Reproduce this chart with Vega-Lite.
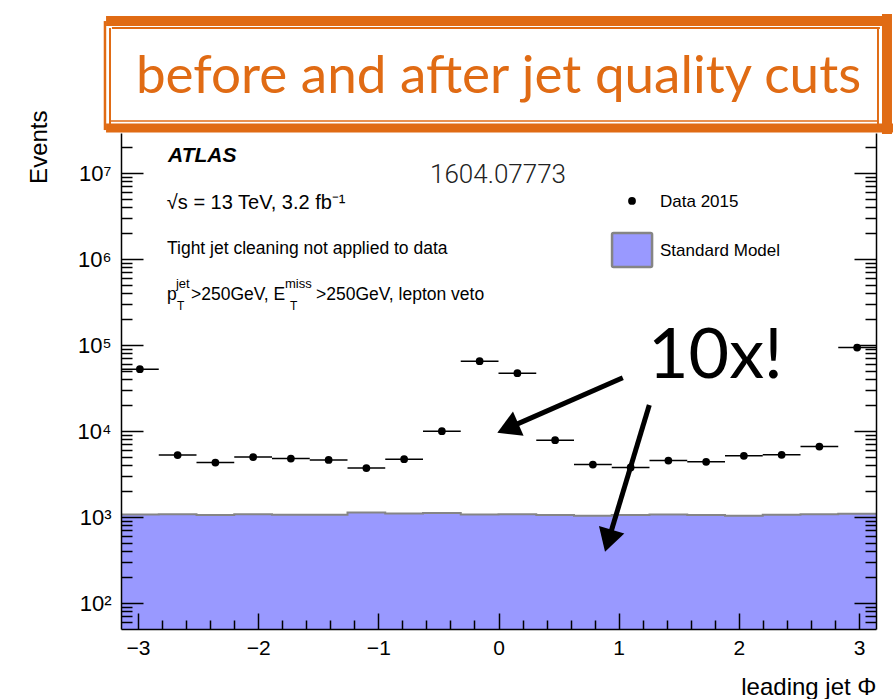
{
  "$schema": "https://vega.github.io/schema/vega-lite/v6.json",
  "width": 755,
  "height": 496,
  "autosize": {"type": "none"},
  "padding": {"left": 121, "top": 133, "right": 18, "bottom": 70},
  "background": "white",
  "config": {"view": {"stroke": null}},
  "data": {
    "values": [
      {"bin": 1, "phi": -2.9845, "phi_lo": -3.1416, "phi_hi": -2.8274, "data": 52600, "sm": 1072},
      {"bin": 2, "phi": -2.6704, "phi_lo": -2.8274, "phi_hi": -2.5133, "data": 5260, "sm": 1083},
      {"bin": 3, "phi": -2.3562, "phi_lo": -2.5133, "phi_hi": -2.1991, "data": 4310, "sm": 1055},
      {"bin": 4, "phi": -2.042, "phi_lo": -2.1991, "phi_hi": -1.885, "data": 4990, "sm": 1083},
      {"bin": 5, "phi": -1.7279, "phi_lo": -1.885, "phi_hi": -1.5708, "data": 4800, "sm": 1064},
      {"bin": 6, "phi": -1.4137, "phi_lo": -1.5708, "phi_hi": -1.2566, "data": 4630, "sm": 1064},
      {"bin": 7, "phi": -1.0996, "phi_lo": -1.2566, "phi_hi": -0.9425, "data": 3720, "sm": 1131},
      {"bin": 8, "phi": -0.7854, "phi_lo": -0.9425, "phi_hi": -0.6283, "data": 4720, "sm": 1101},
      {"bin": 9, "phi": -0.4712, "phi_lo": -0.6283, "phi_hi": -0.3142, "data": 10000, "sm": 1113},
      {"bin": 10, "phi": -0.1571, "phi_lo": -0.3142, "phi_hi": 0, "data": 65100, "sm": 1072},
      {"bin": 11, "phi": 0.1571, "phi_lo": 0, "phi_hi": 0.3142, "data": 47200, "sm": 1083},
      {"bin": 12, "phi": 0.4712, "phi_lo": 0.3142, "phi_hi": 0.6283, "data": 7850, "sm": 1055},
      {"bin": 13, "phi": 0.7854, "phi_lo": 0.6283, "phi_hi": 0.9425, "data": 4090, "sm": 1035},
      {"bin": 14, "phi": 1.0996, "phi_lo": 0.9425, "phi_hi": 1.2566, "data": 3780, "sm": 1055},
      {"bin": 15, "phi": 1.4137, "phi_lo": 1.2566, "phi_hi": 1.5708, "data": 4550, "sm": 1072},
      {"bin": 16, "phi": 1.7279, "phi_lo": 1.5708, "phi_hi": 1.885, "data": 4400, "sm": 1055},
      {"bin": 17, "phi": 2.042, "phi_lo": 1.885, "phi_hi": 2.1991, "data": 5160, "sm": 1035},
      {"bin": 18, "phi": 2.3562, "phi_lo": 2.1991, "phi_hi": 2.5133, "data": 5300, "sm": 1064},
      {"bin": 19, "phi": 2.6704, "phi_lo": 2.5133, "phi_hi": 2.8274, "data": 6620, "sm": 1083},
      {"bin": 20, "phi": 2.9845, "phi_lo": 2.8274, "phi_hi": 3.1416, "data": 93800, "sm": 1092}
    ]
  },
  "layer": [
    {
      "transform": [{"fold": ["phi_lo", "phi_hi"], "as": ["edge", "phi_edge"]}],
      "mark": {"type": "area", "color": "#9999ff", "opacity": 1},
      "encoding": {
        "x": {
          "field": "phi_edge", "type": "quantitative",
          "scale": {"domain": [-3.1416, 3.1416], "nice": false, "zero": false},
          "axis": null
        },
        "y": {
          "field": "sm", "type": "quantitative", "stack": null,
          "scale": {"type": "log", "domain": [50, 29300000], "nice": false, "zero": false},
          "axis": {
            "orient": "left", "zindex": 1, "grid": false,
            "values": [60, 70, 80, 90, 100, 200, 300, 400, 500, 600, 700, 800, 900, 1000, 2000, 3000, 4000, 5000, 6000, 7000, 8000, 9000, 10000, 20000, 30000, 40000, 50000, 60000, 70000, 80000, 90000, 100000, 200000, 300000, 400000, 500000, 600000, 700000, 800000, 900000, 1000000, 2000000, 3000000, 4000000, 5000000, 6000000, 7000000, 8000000, 9000000, 10000000, 20000000],
            "domainColor": "#000", "domainWidth": 1.5, "tickColor": "#000", "tickWidth": 1.5,
            "tickSize": {"condition": {"test": "abs(log(datum.value) / LN10 - round(log(datum.value) / LN10)) < 1e-6", "value": -22}, "value": -11},
            "labelExpr": "abs(log(datum.value) / LN10 - round(log(datum.value) / LN10)) < 1e-6 ? '10' + ['⁰', '¹', '²', '³', '⁴', '⁵', '⁶', '⁷', '⁸', '⁹'][round(log(datum.value) / LN10)] : ''",
            "labelFont": "Liberation Sans", "labelFontSize": 22, "labelColor": "#000", "labelPadding": 32,
            "labelOverlap": false, "labelFlush": false,
            "title": "Events", "titleFont": "Liberation Sans", "titleFontSize": 24, "titleFontWeight": "normal",
            "titleColor": "#000", "titleAnchor": "end", "titleY": -23, "titlePadding": 26
          }
        },
        "order": [{"field": "phi_edge", "type": "quantitative"}, {"field": "bin", "type": "quantitative"}]
      }
    },
    {
      "transform": [{"fold": ["phi_lo", "phi_hi"], "as": ["edge", "phi_edge"]}],
      "mark": {"type": "line", "color": "#858585", "strokeWidth": 2},
      "encoding": {
        "x": {"field": "phi_edge", "type": "quantitative", "axis": null},
        "y": {"field": "sm", "type": "quantitative", "axis": null},
        "order": [{"field": "phi_edge", "type": "quantitative"}, {"field": "bin", "type": "quantitative"}]
      }
    },
    {
      "mark": {"type": "rule", "color": "#000", "strokeWidth": 1.5},
      "encoding": {
        "x": {
          "field": "phi_lo", "type": "quantitative",
          "axis": {"orient": "top", "grid": false, "labels": false, "ticks": false, "domain": false, "title": null}
        },
        "x2": {"field": "phi_hi"},
        "y": {
          "field": "data", "type": "quantitative",
          "axis": {
            "orient": "right", "zindex": 1, "grid": false, "labels": false, "title": null,
            "values": [60, 70, 80, 90, 100, 200, 300, 400, 500, 600, 700, 800, 900, 1000, 2000, 3000, 4000, 5000, 6000, 7000, 8000, 9000, 10000, 20000, 30000, 40000, 50000, 60000, 70000, 80000, 90000, 100000, 200000, 300000, 400000, 500000, 600000, 700000, 800000, 900000, 1000000, 2000000, 3000000, 4000000, 5000000, 6000000, 7000000, 8000000, 9000000, 10000000, 20000000],
            "domainColor": "#000", "domainWidth": 1.5, "tickColor": "#000", "tickWidth": 1.5,
            "tickSize": {"condition": {"test": "abs(log(datum.value) / LN10 - round(log(datum.value) / LN10)) < 1e-6", "value": -22}, "value": -11}
          }
        }
      }
    },
    {
      "mark": {"type": "point", "shape": "circle", "filled": true, "color": "#000", "opacity": 1, "size": 60},
      "encoding": {
        "x": {
          "field": "phi", "type": "quantitative",
          "axis": {
            "orient": "bottom", "zindex": 1, "grid": false,
            "values": [-3, -2.8, -2.6, -2.4, -2.2, -2, -1.8, -1.6, -1.4, -1.2, -1, -0.8, -0.6, -0.4, -0.2, 0, 0.2, 0.4, 0.6, 0.8, 1, 1.2, 1.4, 1.6, 1.8, 2, 2.2, 2.4, 2.6, 2.8, 3],
            "domainColor": "#000", "domainWidth": 1.5, "tickColor": "#000", "tickWidth": 1.5,
            "tickSize": {"condition": {"test": "abs(datum.value - round(datum.value)) < 1e-6", "value": -16}, "value": -9},
            "labelExpr": "abs(datum.value - round(datum.value)) < 1e-6 ? format(round(datum.value), 'd') : ''",
            "labelFont": "Liberation Sans", "labelFontSize": 21, "labelColor": "#000", "labelPadding": 24,
            "labelOverlap": false, "labelFlush": false,
            "title": "leading jet Φ", "titleFont": "Liberation Sans", "titleFontSize": 24, "titleFontWeight": "normal",
            "titleColor": "#000", "titleAnchor": "end", "titlePadding": 10
          }
        },
        "y": {"field": "data", "type": "quantitative", "axis": null}
      }
    },
    {
      "data": {"values": [{}]},
      "mark": {"type": "text", "text": "ATLAS", "font": "Liberation Sans", "fontStyle": "italic", "fontWeight": "bold", "fontSize": 21, "align": "left", "baseline": "alphabetic", "color": "#000"},
      "encoding": {"x": {"datum": -2.75, "axis": null}, "y": {"datum": 13370000, "axis": null}}
    },
    {
      "data": {"values": [{}]},
      "mark": {"type": "text", "text": "√s = 13 TeV, 3.2 fb⁻¹", "font": "Liberation Sans", "fontSize": 20, "align": "left", "baseline": "alphabetic", "color": "#000"},
      "encoding": {"x": {"datum": -2.76, "axis": null}, "y": {"datum": 3830000, "axis": null}}
    },
    {
      "data": {"values": [{}]},
      "mark": {"type": "text", "text": "Tight jet cleaning not applied to data", "font": "Liberation Sans", "fontSize": 17.5, "align": "left", "baseline": "alphabetic", "color": "#000"},
      "encoding": {"x": {"datum": -2.759, "axis": null}, "y": {"datum": 1146000, "axis": null}}
    },
    {
      "data": {"values": [{}]},
      "mark": {"type": "text", "text": "p", "font": "Liberation Sans", "fontSize": 17.5, "align": "left", "baseline": "alphabetic", "color": "#000"},
      "encoding": {"x": {"datum": -2.759, "axis": null}, "y": {"datum": 335000, "axis": null}}
    },
    {
      "data": {"values": [{}]},
      "mark": {"type": "text", "text": "jet", "font": "Liberation Sans", "fontSize": 13, "align": "left", "baseline": "alphabetic", "color": "#000"},
      "encoding": {"x": {"datum": -2.684, "axis": null}, "y": {"datum": 461000, "axis": null}}
    },
    {
      "data": {"values": [{}]},
      "mark": {"type": "text", "text": "T", "font": "Liberation Sans", "fontSize": 12, "align": "left", "baseline": "alphabetic", "color": "#000"},
      "encoding": {"x": {"datum": -2.676, "axis": null}, "y": {"datum": 256000, "axis": null}}
    },
    {
      "data": {"values": [{}]},
      "mark": {"type": "text", "text": ">250GeV, E", "font": "Liberation Sans", "fontSize": 17.5, "align": "left", "baseline": "alphabetic", "color": "#000"},
      "encoding": {"x": {"datum": -2.559, "axis": null}, "y": {"datum": 335000, "axis": null}}
    },
    {
      "data": {"values": [{}]},
      "mark": {"type": "text", "text": "miss", "font": "Liberation Sans", "fontSize": 13, "align": "left", "baseline": "alphabetic", "color": "#000"},
      "encoding": {"x": {"datum": -1.777, "axis": null}, "y": {"datum": 461000, "axis": null}}
    },
    {
      "data": {"values": [{}]},
      "mark": {"type": "text", "text": "T", "font": "Liberation Sans", "fontSize": 12, "align": "left", "baseline": "alphabetic", "color": "#000"},
      "encoding": {"x": {"datum": -1.735, "axis": null}, "y": {"datum": 256000, "axis": null}}
    },
    {
      "data": {"values": [{}]},
      "mark": {"type": "text", "text": ">250GeV, lepton veto", "font": "Liberation Sans", "fontSize": 17.5, "align": "left", "baseline": "alphabetic", "color": "#000"},
      "encoding": {"x": {"datum": -1.519, "axis": null}, "y": {"datum": 335000, "axis": null}}
    },
    {
      "data": {"values": [{}]},
      "mark": {"type": "text", "text": "1604.07773", "font": "Roboto", "fontWeight": 300, "fontSize": 26, "align": "left", "baseline": "alphabetic", "color": "#222"},
      "encoding": {"x": {"datum": -0.57, "axis": null}, "y": {"datum": 7620000, "axis": null}}
    },
    {
      "data": {"values": [{}]},
      "mark": {"type": "point", "shape": "circle", "filled": true, "color": "#000", "opacity": 1, "size": 60},
      "encoding": {"x": {"datum": 1.111, "axis": null}, "y": {"datum": 4750000, "axis": null}}
    },
    {
      "data": {"values": [{}]},
      "mark": {"type": "text", "text": "Data 2015", "font": "Liberation Sans", "fontSize": 17, "align": "left", "baseline": "alphabetic", "color": "#000"},
      "encoding": {"x": {"datum": 1.344, "axis": null}, "y": {"datum": 4040000, "axis": null}}
    },
    {
      "data": {"values": [{}]},
      "mark": {"type": "rect", "fill": "#9999ff", "stroke": "#858585", "strokeWidth": 2.5, "cornerRadius": 1.5},
      "encoding": {"x": {"datum": 0.945, "axis": null}, "x2": {"datum": 1.278}, "y": {"datum": 2014000, "axis": null}, "y2": {"datum": 809000}}
    },
    {
      "data": {"values": [{}]},
      "mark": {"type": "text", "text": "Standard Model", "font": "Liberation Sans", "fontSize": 17, "align": "left", "baseline": "alphabetic", "color": "#000"},
      "encoding": {"x": {"datum": 1.344, "axis": null}, "y": {"datum": 1086000, "axis": null}}
    },
    {
      "data": {"values": [{}]},
      "mark": {"type": "text", "text": "10x!", "font": "Lato", "fontSize": 70, "align": "left", "baseline": "alphabetic", "color": "#000"},
      "encoding": {"x": {"datum": 1.244, "axis": null}, "y": {"datum": 41500, "axis": null}}
    },
    {
      "data": {"values": [{}]},
      "mark": {"type": "rule", "color": "#000", "strokeWidth": 5},
      "encoding": {"x": {"datum": 1.034, "axis": null}, "y": {"datum": 41800, "axis": null}, "x2": {"datum": 0.0774}, "y2": {"datum": 10840}}
    },
    {
      "data": {"values": [{}]},
      "mark": {"type": "point", "shape": "triangle-up", "filled": true, "color": "#000", "opacity": 1, "size": 700, "angle": 246.4},
      "encoding": {"x": {"datum": 0.0774, "axis": null}, "y": {"datum": 10840, "axis": null}}
    },
    {
      "data": {"values": [{}]},
      "mark": {"type": "rule", "color": "#000", "strokeWidth": 5},
      "encoding": {"x": {"datum": 1.255, "axis": null}, "y": {"datum": 20120, "axis": null}, "x2": {"datum": 0.914}, "y2": {"datum": 532}}
    },
    {
      "data": {"values": [{}]},
      "mark": {"type": "point", "shape": "triangle-up", "filled": true, "color": "#000", "opacity": 1, "size": 700, "angle": 196.8},
      "encoding": {"x": {"datum": 0.914, "axis": null}, "y": {"datum": 532, "axis": null}}
    },
    {
      "data": {"values": [{}]},
      "mark": {"type": "rect", "fill": "#fff"},
      "encoding": {"x": {"datum": -3.283, "axis": null}, "x2": {"datum": 3.241}, "y": {"datum": 671000000, "axis": null}, "y2": {"datum": 29300000}}
    },
    {
      "data": {"values": [{}]},
      "mark": {"type": "rule", "color": "#e06b14", "strokeWidth": 10},
      "encoding": {"x": {"datum": -3.266, "axis": null}, "x2": {"datum": 3.258}, "y": {"datum": 587000000, "axis": null}}
    },
    {
      "data": {"values": [{}]},
      "mark": {"type": "rule", "color": "#e06b14", "strokeWidth": 2},
      "encoding": {"x": {"datum": -3.217, "axis": null}, "x2": {"datum": 3.174}, "y": {"datum": 487000000, "axis": null}}
    },
    {
      "data": {"values": [{}]},
      "mark": {"type": "rule", "color": "#e06b14", "strokeWidth": 9},
      "encoding": {"x": {"datum": -3.266, "axis": null}, "x2": {"datum": 3.283}, "y": {"datum": 33500000, "axis": null}}
    },
    {
      "data": {"values": [{}]},
      "mark": {"type": "rule", "color": "#e06b14", "strokeWidth": 1.5},
      "encoding": {"x": {"datum": -3.233, "axis": null}, "x2": {"datum": 3.158}, "y": {"datum": 40400000, "axis": null}}
    },
    {
      "data": {"values": [{}]},
      "mark": {"type": "rule", "color": "#e06b14", "strokeWidth": 10},
      "encoding": {"x": {"datum": 3.233, "axis": null}, "y": {"datum": 708000000, "axis": null}, "y2": {"datum": 28500000}}
    },
    {
      "data": {"values": [{}]},
      "mark": {"type": "rule", "color": "#e06b14", "strokeWidth": 2},
      "encoding": {"x": {"datum": 3.158, "axis": null}, "y": {"datum": 487000000, "axis": null}, "y2": {"datum": 35300000}}
    },
    {
      "data": {"values": [{}]},
      "mark": {"type": "rule", "color": "#e06b14", "strokeWidth": 2.5},
      "encoding": {"x": {"datum": -3.275, "axis": null}, "y": {"datum": 587000000, "axis": null}, "y2": {"datum": 31700000}}
    },
    {
      "data": {"values": [{}]},
      "mark": {"type": "rule", "color": "#e06b14", "strokeWidth": 2},
      "encoding": {"x": {"datum": -3.233, "axis": null}, "y": {"datum": 487000000, "axis": null}, "y2": {"datum": 35300000}}
    },
    {
      "data": {"values": [{}]},
      "mark": {"type": "text", "text": "before and after jet quality cuts", "font": "Lato", "fontSize": 53, "align": "center", "baseline": "alphabetic", "color": "#e06b14"},
      "encoding": {"x": {"datum": 0, "axis": null}, "y": {"datum": 85500000, "axis": null}}
    }
  ]
}
